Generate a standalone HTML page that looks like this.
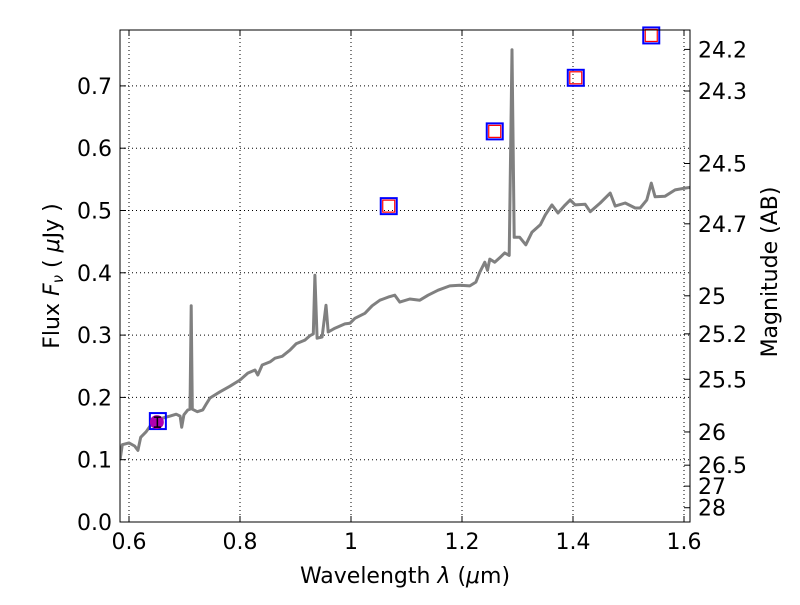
<!DOCTYPE html>
<html><head><meta charset="utf-8"><style>
body{margin:0;background:#fff}
svg text{font-family:"DejaVu Sans","Liberation Sans",sans-serif;font-size:22px;fill:#000}
</style></head><body>
<svg id="c" width="800" height="600"></svg>
<script>
const specWave=[0.584,0.588,0.6,0.61,0.616,0.621,0.631,0.638,0.647,0.661,0.674,0.685,0.692,0.695,0.699,0.706,0.710,0.712,0.714,0.723,0.733,0.739,0.746,0.755,0.764,0.782,0.8,0.814,0.827,0.832,0.840,0.854,0.863,0.876,0.890,0.901,0.917,0.926,0.932,0.935,0.939,0.948,0.955,0.959,0.971,0.989,0.998,1.007,1.025,1.038,1.052,1.067,1.079,1.088,1.106,1.124,1.139,1.157,1.178,1.196,1.214,1.225,1.232,1.241,1.246,1.250,1.259,1.268,1.277,1.285,1.290,1.294,1.304,1.315,1.326,1.341,1.350,1.362,1.373,1.384,1.395,1.404,1.422,1.431,1.449,1.467,1.476,1.494,1.512,1.521,1.533,1.541,1.548,1.566,1.584,1.602,1.611];
const specFlux=[0.10,0.124,0.127,0.122,0.115,0.136,0.145,0.154,0.164,0.167,0.170,0.173,0.170,0.152,0.172,0.18,0.181,0.347,0.181,0.177,0.18,0.189,0.199,0.204,0.209,0.218,0.228,0.239,0.244,0.236,0.252,0.257,0.263,0.266,0.276,0.286,0.292,0.299,0.302,0.396,0.295,0.297,0.348,0.305,0.311,0.318,0.319,0.327,0.335,0.347,0.356,0.361,0.364,0.353,0.358,0.356,0.364,0.372,0.379,0.380,0.379,0.385,0.401,0.417,0.404,0.422,0.417,0.424,0.432,0.428,0.758,0.457,0.457,0.445,0.465,0.477,0.493,0.509,0.496,0.507,0.517,0.509,0.510,0.498,0.512,0.528,0.507,0.512,0.504,0.504,0.517,0.544,0.522,0.523,0.533,0.536,0.537];
const photWave=[0.652,1.068,1.259,1.405,1.541];
const photFlux=[0.162,0.507,0.627,0.713,0.781];
const xTicks=[0.6,0.8,1.0,1.2,1.4,1.6];
const xTickLabels=["0.6","0.8","1","1.2","1.4","1.6"];
const yTicks=[0,0.1,0.2,0.3,0.4,0.5,0.6,0.7];
const yTickLabels=["0.0","0.1","0.2","0.3","0.4","0.5","0.6","0.7"];
const magTicks=[24.2,24.3,24.5,24.7,25,25.2,25.5,26,26.5,27,28];

const L=120,R=690,T=30,B=522;
const X=v=>129+(v-0.6)*555;
const Y=v=>522-v*623;
const NS="http://www.w3.org/2000/svg";
const svg=document.getElementById('c');
function mk(t,a,p){const e=document.createElementNS(NS,t);for(const k in a)e.setAttribute(k,a[k]);(p||svg).appendChild(e);return e;}
xTicks.forEach(v=>{const g=mk('line',{x1:X(v),x2:X(v),y1:T,y2:B,stroke:'#000','stroke-dasharray':'1,3','stroke-width':1});

});
yTicks.forEach(v=>{const g=mk('line',{x1:L,x2:R,y1:Y(v),y2:Y(v),stroke:'#000','stroke-dasharray':'1,3','stroke-width':1});

});
const pts=specWave.map((w,i)=>X(w).toFixed(1)+','+Y(specFlux[i]).toFixed(1)).join(' ');
const cp=mk('clipPath',{id:'clip'});mk('rect',{x:L,y:T,width:R-L,height:B-T},cp);
const sp=mk('polyline',{points:pts,fill:'none',stroke:'#808080','stroke-width':3,'stroke-linejoin':'round','clip-path':'url(#clip)'});


photWave.forEach((w,i)=>{const cx=X(w),cy=Y(photFlux[i]);
const b=mk('rect',{x:cx-8,y:cy-8,width:16,height:16,fill:'none',stroke:'#00f','stroke-width':2});


if(i===0){const c=mk('circle',{cx:cx-1,cy:cy+1,r:7,fill:'#b000b0'});


mk('path',{d:`M${cx-4} ${cy-4}H${cx+3}M${cx-0.5} ${cy-4}V${cy+6}M${cx-4} ${cy+6}H${cx+3}`,stroke:'#000','stroke-width':1.5,fill:'none'});}
else{const r=mk('rect',{x:cx-6,y:cy-6,width:12,height:12,fill:'none',stroke:'#f00','stroke-width':1.2});

}
});
const f=mk('rect',{x:L,y:T,width:R-L,height:B-T,fill:'none',stroke:'#000','stroke-width':1});


xTicks.forEach((v,i)=>{mk('line',{x1:X(v),x2:X(v),y1:B,y2:B-6,stroke:'#000'});mk('line',{x1:X(v),x2:X(v),y1:T,y2:T+6,stroke:'#000'});
const t=mk('text',{x:X(v),y:B+27,'text-anchor':'middle'});t.textContent=xTickLabels[i];

});
yTicks.forEach((v,i)=>{mk('line',{x1:L,x2:L+6,y1:Y(v),y2:Y(v),stroke:'#000'});
const t=mk('text',{x:L-8,y:Y(v)+8,'text-anchor':'end'});t.textContent=yTickLabels[i];

});
magTicks.forEach(m=>{const y=Y(Math.pow(10,(23.9-m)/2.5));mk('line',{x1:R,x2:R-6,y1:y,y2:y,stroke:'#000'});
const t=mk('text',{x:R+8,y:y+8});t.textContent=String(m);

});
</script>
<svg width="800" height="600" style="position:absolute;left:0;top:0">
<text x="405" y="583" text-anchor="middle" style="font-family:'DejaVu Sans',sans-serif;font-size:22px">Wavelength  <tspan font-style="italic">λ</tspan> (<tspan font-style="italic">μ</tspan>m)</text>
<text transform="translate(59,276) rotate(-90)" text-anchor="middle" style="font-family:'DejaVu Sans',sans-serif;font-size:22px">Flux  <tspan font-style="italic">F</tspan><tspan font-style="italic" font-size="15" dy="4">ν</tspan><tspan dy="-4">  ( </tspan><tspan font-style="italic">μ</tspan>Jy )</text>
<text transform="translate(777,272) rotate(-90)" text-anchor="middle" style="font-family:'DejaVu Sans',sans-serif;font-size:22px">Magnitude (AB)</text>
</svg>
</body></html>
